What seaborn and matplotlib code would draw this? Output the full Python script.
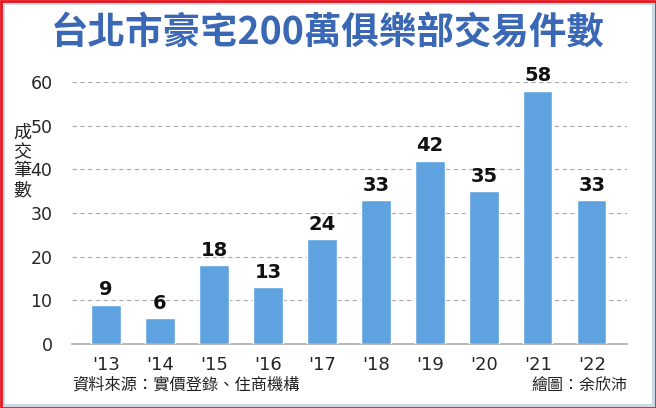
import matplotlib
matplotlib.use("Agg")
import matplotlib.pyplot as plt
import seaborn as sns
from matplotlib.patches import Rectangle

years = ["'13", "'14", "'15", "'16", "'17", "'18", "'19", "'20", "'21", "'22"]
deals = [9, 6, 18, 13, 24, 33, 42, 35, 58, 33]
ylabel_chars = ["成", "交", "筆", "數"]

sns.set_style("white")
plt.rcParams["font.family"] = ["Noto Sans CJK TC", "DejaVu Sans"]

fig = plt.figure(figsize=(6.56, 4.08), dpi=100)
ax = fig.add_axes([72 / 656, 1 - 344 / 408, (627 - 72) / 656, 262 / 408])

sns.barplot(x=years, y=deals, color="#5fa2e0", saturation=1, width=0.54, ax=ax, zorder=3)
for i, v in enumerate(deals):
    ax.text(i, v + 1.2, str(v), ha="center", va="bottom", fontsize=14,
            fontweight="bold", color="#111111", family="DejaVu Sans")

ax.set_ylim(0, 60)
ax.set_xlim(-0.63, 9.65)
ax.set_yticks(range(0, 61, 10))
ax.yaxis.grid(True, linestyle=(0, (4, 3)), color="#aaaaaa", linewidth=0.8, zorder=0)
ax.set_axisbelow(True)
for s in ["top", "right", "left"]:
    ax.spines[s].set_visible(False)
ax.spines["bottom"].set_color("#aaaaaa")
ax.spines["bottom"].set_linewidth(1.2)
ax.tick_params(axis="x", length=5, color="#aaaaaa", labelsize=13, pad=4)
ax.tick_params(axis="y", length=0, labelsize=12.5, pad=14)
for lab in ax.get_xticklabels() + ax.get_yticklabels():
    lab.set_family("DejaVu Sans")
ax.set_xlabel("")
ax.set_ylabel("")

# vertical y-axis title, one character per line
for k, ch in enumerate(ylabel_chars):
    fig.text(22 / 656, 1 - (133 + 19 * k) / 408, ch, ha="center", va="center",
             fontsize=13, color="#222222")

fig.text(328 / 656, 1 - 32 / 408, "台北市豪宅200萬俱樂部交易件數", ha="center", va="center",
         fontsize=27, fontweight="bold", color="#3a68b5")
fig.text(72 / 656, 1 - 385 / 408, "資料來源：實價登錄、住商機構", ha="left", va="center",
         fontsize=11.7, color="#222222")
fig.text(627 / 656, 1 - 385 / 408, "繪圖：余欣沛", ha="right", va="center",
         fontsize=11.5, color="#222222")

fig.patches.append(Rectangle((3 / 656, 3 / 408), 650 / 656, 402 / 408, transform=fig.transFigure,
                             fill=False, edgecolor="#c9d6e6", linewidth=2))
fig.patches.append(Rectangle((0.5 / 656, 0.5 / 408), 655 / 656, 407 / 408, transform=fig.transFigure,
                             fill=False, edgecolor="#e8141c", linewidth=2))

fig.savefig("out.png", dpi=100)
